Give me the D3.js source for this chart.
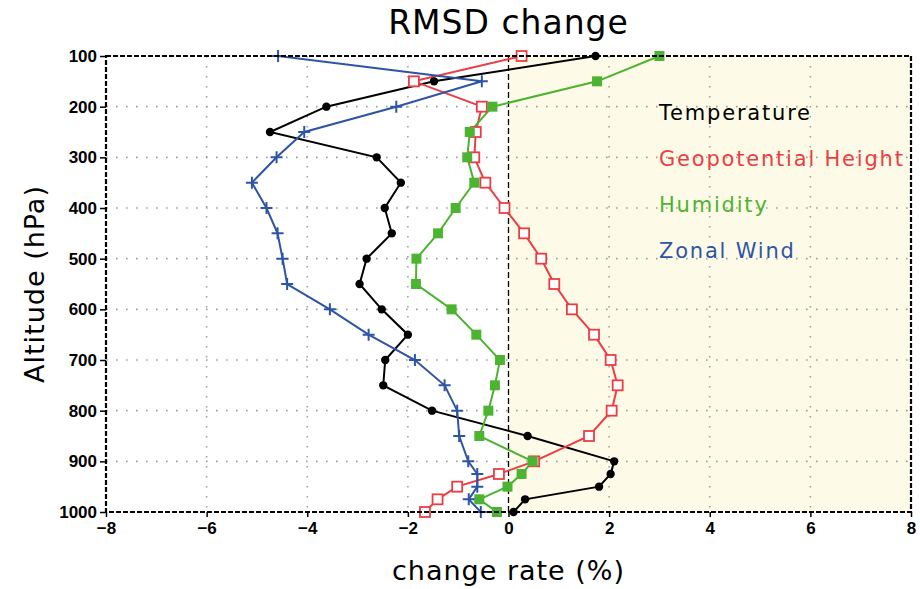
<!DOCTYPE html>
<html>
<head>
<meta charset="utf-8">
<script src="https://cdn.jsdelivr.net/npm/d3@7"></script>
<style>
  body { margin: 0; background: #fff; }
  svg { display: block; }
</style>
</head>
<body>
<div id="chart"></div>
<script>
// pressure levels (hPa)
const levels = [100, 150, 200, 250, 300, 350, 400, 450, 500, 550, 600, 650, 700, 750, 800, 850, 900, 925, 950, 975, 1000];

// change rate (%) per level
const temperature = [1.73, -1.48, -3.62, -4.74, -2.62, -2.14, -2.46, -2.32, -2.82, -2.96, -2.52, -2.0, -2.45, -2.49, -1.52, 0.38, 2.10, 2.03, 1.80, 0.33, 0.10];
const geopotential = [0.26, -1.88, -0.53, -0.65, -0.68, -0.46, -0.08, 0.31, 0.65, 0.91, 1.26, 1.70, 2.03, 2.17, 2.05, 1.60, 0.51, -0.19, -1.02, -1.41, -1.66];
const humidity = [3.0, 1.76, -0.32, -0.77, -0.82, -0.68, -1.05, -1.40, -1.83, -1.84, -1.13, -0.64, -0.17, -0.27, -0.40, -0.58, 0.48, 0.26, -0.02, -0.58, -0.23];
const zonalWind = [-4.58, -0.53, -2.23, -4.06, -4.61, -5.10, -4.81, -4.59, -4.49, -4.40, -3.55, -2.78, -1.86, -1.27, -1.02, -0.98, -0.80, -0.62, -0.62, -0.79, -0.55];

const xTicks = [-8, -6, -4, -2, 0, 2, 4, 6, 8];
const yTicks = [100, 200, 300, 400, 500, 600, 700, 800, 900, 1000];

const series = [
  { name: "Temperature", values: temperature, color: "#000000", marker: "circle" },
  { name: "Geopotential Height", values: geopotential, color: "#ec3d44", marker: "openSquare" },
  { name: "Humidity", values: humidity, color: "#4cb430", marker: "square" },
  { name: "Zonal Wind", values: zonalWind, color: "#2e55a5", marker: "plus" }
];

const width = 920, height = 589;
const margin = { top: 56, right: 9, bottom: 77, left: 106 };

const svg = d3.select("#chart").append("svg")
  .attr("width", width)
  .attr("height", height);

const x = d3.scaleLinear().domain([-8, 8]).range([margin.left, width - margin.right]);
const y = d3.scaleLinear().domain([100, 1000]).range([margin.top, height - margin.bottom]);

// positive half shading
svg.append("rect")
  .attr("x", x(0)).attr("y", y(100))
  .attr("width", x(8) - x(0)).attr("height", y(1000) - y(100))
  .attr("fill", "#fdfbe7");

// grid
const grid = svg.append("g").attr("stroke", "#a0a0a0").attr("stroke-width", 1.6)
  .attr("stroke-dasharray", "1.6,8.4");
xTicks.filter(d => d !== 0 && Math.abs(d) !== 8).forEach(d => {
  grid.append("line").attr("x1", x(d)).attr("x2", x(d)).attr("y1", y(100)).attr("y2", y(1000));
});
yTicks.filter(d => d !== 100 && d !== 1000).forEach(d => {
  grid.append("line").attr("y1", y(d)).attr("y2", y(d)).attr("x1", x(-8)).attr("x2", x(8));
});

// zero line
svg.append("line")
  .attr("x1", x(0)).attr("x2", x(0)).attr("y1", y(100)).attr("y2", y(1000))
  .attr("stroke", "#000").attr("stroke-width", 1.3).attr("stroke-dasharray", "6,3");

// lines
const line = d3.line().x(d => x(d[0])).y(d => y(d[1]));
series.forEach(s => {
  const pts = s.values.map((v, i) => [v, levels[i]]);
  svg.append("path")
    .datum(pts)
    .attr("d", line)
    .attr("fill", "none")
    .attr("stroke", s.color)
    .attr("stroke-width", 2);
});

// markers
series.forEach(s => {
  const g = svg.append("g");
  s.values.forEach((v, i) => {
    const cx = x(v), cy = y(levels[i]);
    if (s.marker === "circle") {
      g.append("circle").attr("cx", cx).attr("cy", cy).attr("r", 4.2).attr("fill", s.color);
    } else if (s.marker === "openSquare") {
      g.append("rect").attr("x", cx - 5).attr("y", cy - 5).attr("width", 10).attr("height", 10)
        .attr("fill", "#fff").attr("stroke", s.color).attr("stroke-width", 1.8);
    } else if (s.marker === "square") {
      g.append("rect").attr("x", cx - 5).attr("y", cy - 5).attr("width", 10).attr("height", 10)
        .attr("fill", s.color);
    } else {
      g.append("path").attr("d", `M${cx - 6},${cy}H${cx + 6}M${cx},${cy - 6}V${cy + 6}`)
        .attr("stroke", s.color).attr("stroke-width", 2);
    }
  });
});

// frame
svg.append("rect")
  .attr("x", x(-8)).attr("y", y(100))
  .attr("width", x(8) - x(-8)).attr("height", y(1000) - y(100))
  .attr("fill", "none").attr("stroke", "#000").attr("stroke-width", 2.2)
  .attr("stroke-dasharray", "5,2");

// axes
const tickFont = "'Liberation Sans Narrow', 'Liberation Sans', Arial, sans-serif";
const xAxis = svg.append("g")
  .attr("transform", `translate(0,${y(1000)})`)
  .call(d3.axisBottom(x).tickValues(xTicks).tickSize(5).tickFormat(d => d < 0 ? "\u2212" + Math.abs(d) : d));
const yAxis = svg.append("g")
  .attr("transform", `translate(${x(-8)},0)`)
  .call(d3.axisLeft(y).tickValues(yTicks).tickSize(6).tickFormat(d3.format("d")));
[xAxis, yAxis].forEach(a => {
  a.select(".domain").remove();
  a.selectAll(".tick line").attr("stroke", "#000").attr("stroke-width", 1.5);
  a.selectAll(".tick text").attr("fill", "#000")
    .style("font-family", tickFont).style("font-weight", "bold").style("font-size", "17px");
});
xAxis.selectAll(".tick text").attr("dy", "0.85em");

// titles
const labelFont = "'DejaVu Sans', sans-serif";
svg.append("text")
  .attr("x", x(0)).attr("y", 34)
  .attr("text-anchor", "middle")
  .style("font-family", labelFont).style("font-size", "33px")
  .style("letter-spacing", "1px")
  .text("RMSD change");

svg.append("text")
  .attr("x", x(0)).attr("y", 580)
  .attr("text-anchor", "middle")
  .style("font-family", labelFont).style("font-size", "27px")
  .style("letter-spacing", "1px")
  .text("change rate (%)");

svg.append("text")
  .attr("transform", `translate(44,${(y(100) + y(1000)) / 2}) rotate(-90)`)
  .attr("text-anchor", "middle")
  .style("font-family", labelFont).style("font-size", "27px")
  .style("letter-spacing", "1px")
  .text("Altitude (hPa)");

// legend
series.forEach((s, i) => {
  svg.append("text")
    .attr("x", 659).attr("y", 120 + i * 46)
    .attr("fill", s.color)
    .style("font-family", "'DejaVu Sans', sans-serif").style("font-size", "21px")
    .style("letter-spacing", "1.8px")
    .text(s.name);
});
</script>
</body>
</html>
